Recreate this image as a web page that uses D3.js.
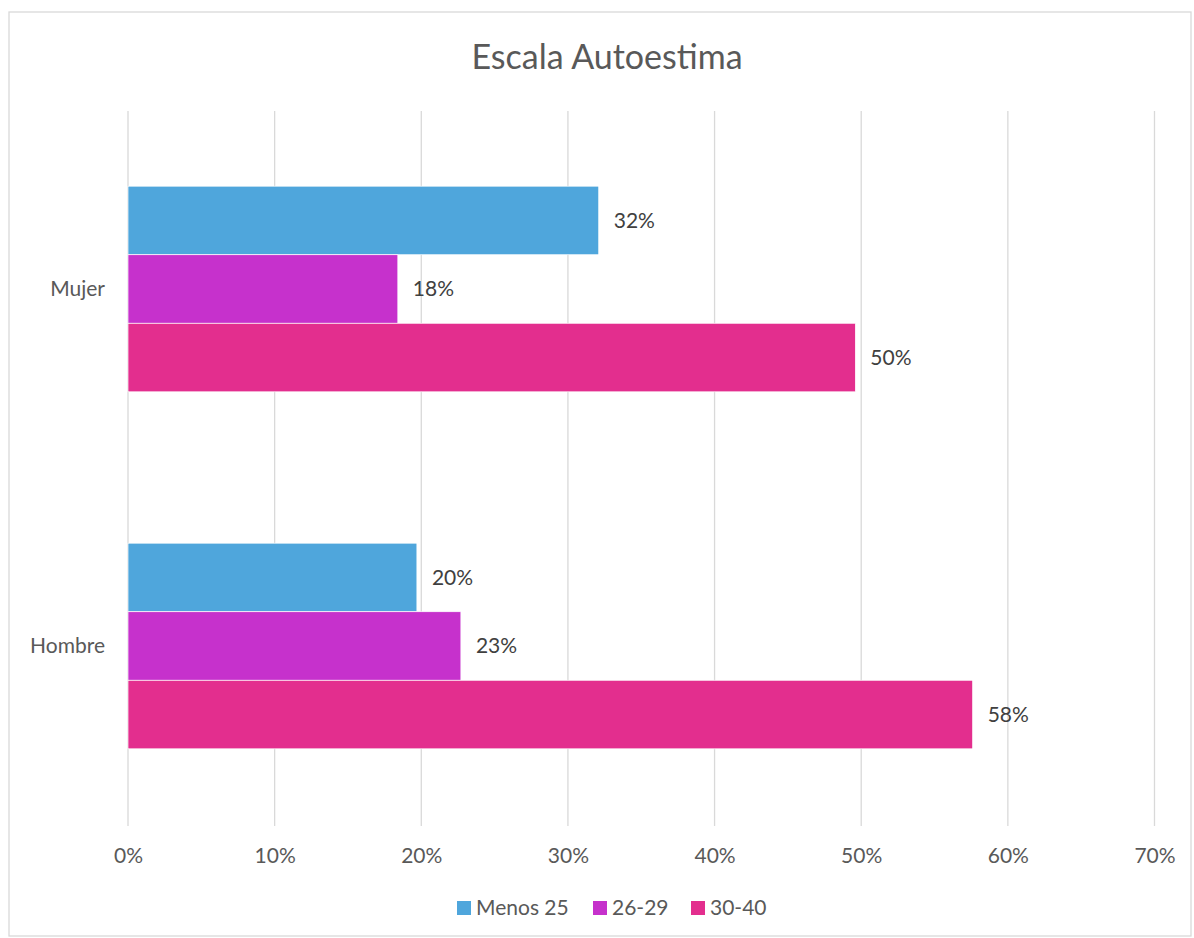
<!DOCTYPE html>
<html>
<head>
<meta charset="utf-8">
<script src="https://cdn.jsdelivr.net/npm/d3@7"></script>
<style>
	body { margin: 0; background: #fff; }
	svg text { font-family: Lato, "Open Sans", sans-serif; }
</style>
</head>
<body>
<div id="chart"></div>
<script>
let categories = ['Mujer', 'Hombre']
let seriesNames = ['Menos 25', '26-29', '30-40']
let menos25 = [0.321, 0.197]
let edad2629 = [0.184, 0.227]
let edad3040 = [0.496, 0.576]
let tickValues = [0, 0.1, 0.2, 0.3, 0.4, 0.5, 0.6, 0.7]
let colors = ['#4fa6dc', '#c631cc', '#e32e8e']

let width = 1194
let height = 938

let margins = {
	top : 110.5,
	left : 128,
	right : 40,
	bottom : 113.5,
}

let seriesValues = [menos25, edad2629, edad3040]

let svg = d3.select('#chart').append('svg')
	.attr('width', width)
	.attr('height', height)

// outer frame
svg.append('rect')
	.attr('x', 9)
	.attr('y', 12)
	.attr('width', 1182)
	.attr('height', 924)
	.attr('fill', 'white')
	.attr('stroke', '#d9d9d9')
	.attr('stroke-width', 1.3)

svg.append('text')
	.text('Escala Autoestima')
	.attr('x', 607)
	.attr('y', 69)
	.attr('text-anchor', 'middle')
	.attr('font-size', 34)
	.attr('fill', '#595959')

let xScale = d3.scaleLinear()
	.domain([0, 0.7])
	.range([margins.left, 1154.5])

let yScale = d3.scaleBand()
	.domain(categories)
	.range([margins.top, height - margins.bottom])
	.paddingInner(0.424)
	.paddingOuter(0.212)

let innerScale = d3.scaleBand()
	.domain(seriesNames)
	.range([0, yScale.bandwidth()])

// gridlines
svg.append('g')
	.selectAll('line')
	.data(tickValues)
	.enter()
	.append('line')
	.attr('x1', (d) => xScale(d))
	.attr('x2', (d) => xScale(d))
	.attr('y1', 111)
	.attr('y2', 826)
	.attr('stroke', '#d9d9d9')
	.attr('stroke-width', 1.3)

let xAxis = d3.axisBottom(xScale)
	.tickValues(tickValues)
	.tickFormat(d3.format('.0%'))
	.tickSize(0)
	.tickPadding(0)

let xAxisG = svg.append('g')
	.attr('transform', 'translate(0,863)')
	.call(xAxis)
xAxisG.select('.domain').remove()
xAxisG.selectAll('text')
	.attr('font-size', 21)
	.attr('fill', '#595959')
	.attr('dy', 0)
	.attr('y', 0)

let yAxis = d3.axisLeft(yScale)
	.tickSize(0)
	.tickPadding(23)
let yAxisG = svg.append('g')
	.attr('transform', `translate(${margins.left},0)`)
	.call(yAxis)
yAxisG.select('.domain').remove()
yAxisG.selectAll('text')
	.attr('font-size', 21)
	.attr('fill', '#595959')

let groups = svg.append('g')
	.selectAll('g')
	.data(seriesNames)
	.enter()
	.append('g')
	.attr('fill', (d, i) => colors[i])

groups.each(function(name, i) {
	let g = d3.select(this)
	let vals = seriesValues[i]
	g.selectAll('rect')
		.data(vals)
		.enter()
		.append('rect')
		.attr('x', xScale(0))
		.attr('y', (d, j) => yScale(categories[j]) + innerScale(name))
		.attr('width', (d) => xScale(d) - xScale(0))
		.attr('height', innerScale.bandwidth())
		.attr('stroke', 'white')
		.attr('stroke-width', 0.7)

	g.selectAll('text')
		.data(vals)
		.enter()
		.append('text')
		.text((d) => d3.format('.0%')(d))
		.attr('x', (d) => xScale(d) + 15)
		.attr('y', (d, j) => yScale(categories[j]) + innerScale(name) + innerScale.bandwidth() / 2)
		.attr('dy', '0.35em')
		.attr('font-size', 21)
		.attr('fill', '#404040')
})

// legend
let legendX = [457, 593, 691]
let legend = svg.append('g')
	.selectAll('g')
	.data(seriesNames)
	.enter()
	.append('g')
	.attr('transform', (d, i) => `translate(${legendX[i]},908)`)

legend.append('rect')
	.attr('x', 0)
	.attr('y', -7)
	.attr('width', 14)
	.attr('height', 14)
	.attr('fill', (d, i) => colors[i])

legend.append('text')
	.text((d) => d)
	.attr('x', 19)
	.attr('dy', '0.35em')
	.attr('font-size', 21)
	.attr('fill', '#595959')
</script>
</body>
</html>
